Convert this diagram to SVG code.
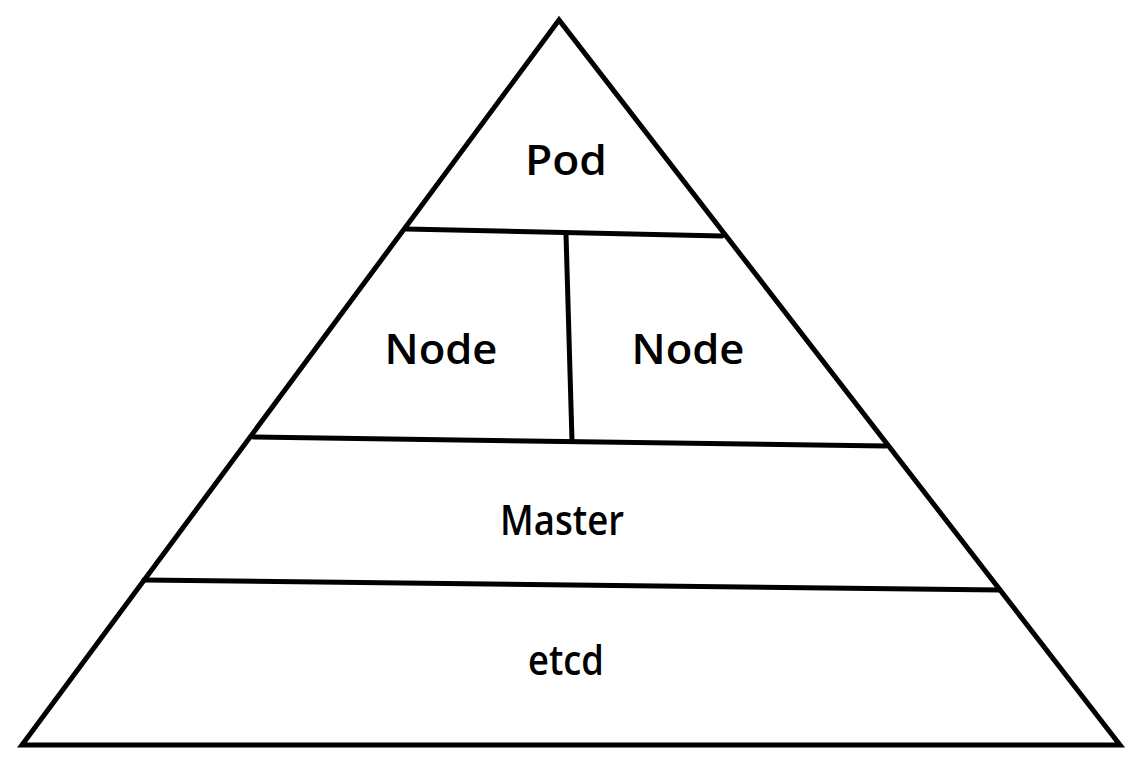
<svg xmlns="http://www.w3.org/2000/svg" width="1141" height="773" viewBox="0 0 1141 773">
<style>
.s{fill:none;stroke:#000;stroke-width:5;stroke-linecap:round;stroke-linejoin:miter}
.t{font-family:"Open Sans","DejaVu Sans",sans-serif;font-weight:600;font-size:42px;fill:#000;text-anchor:middle}
</style>
<rect width="1141" height="773" fill="#fff"/>
<g id="connectors">
<polygon class="s" points="559,20 22,745 1120,745"/>
<line class="s" x1="406" y1="229" x2="722" y2="236"/>
<line class="s" x1="566" y1="234" x2="572" y2="441"/>
<line class="s" x1="253" y1="437" x2="886" y2="446"/>
<line class="s" x1="144" y1="580" x2="1000" y2="590"/>
</g>
<g id="pod"><text class="t" x="566" y="175" textLength="82" lengthAdjust="spacingAndGlyphs">Pod</text></g>
<g id="node1"><text class="t" x="441" y="364" textLength="113" lengthAdjust="spacingAndGlyphs">Node</text></g>
<g id="node2"><text class="t" x="688" y="364" textLength="113" lengthAdjust="spacingAndGlyphs">Node</text></g>
<g id="master"><text class="t" x="562" y="535" textLength="124" lengthAdjust="spacingAndGlyphs">Master</text></g>
<g id="etcd"><text class="t" x="566" y="675" textLength="76" lengthAdjust="spacingAndGlyphs">etcd</text></g>
</svg>
